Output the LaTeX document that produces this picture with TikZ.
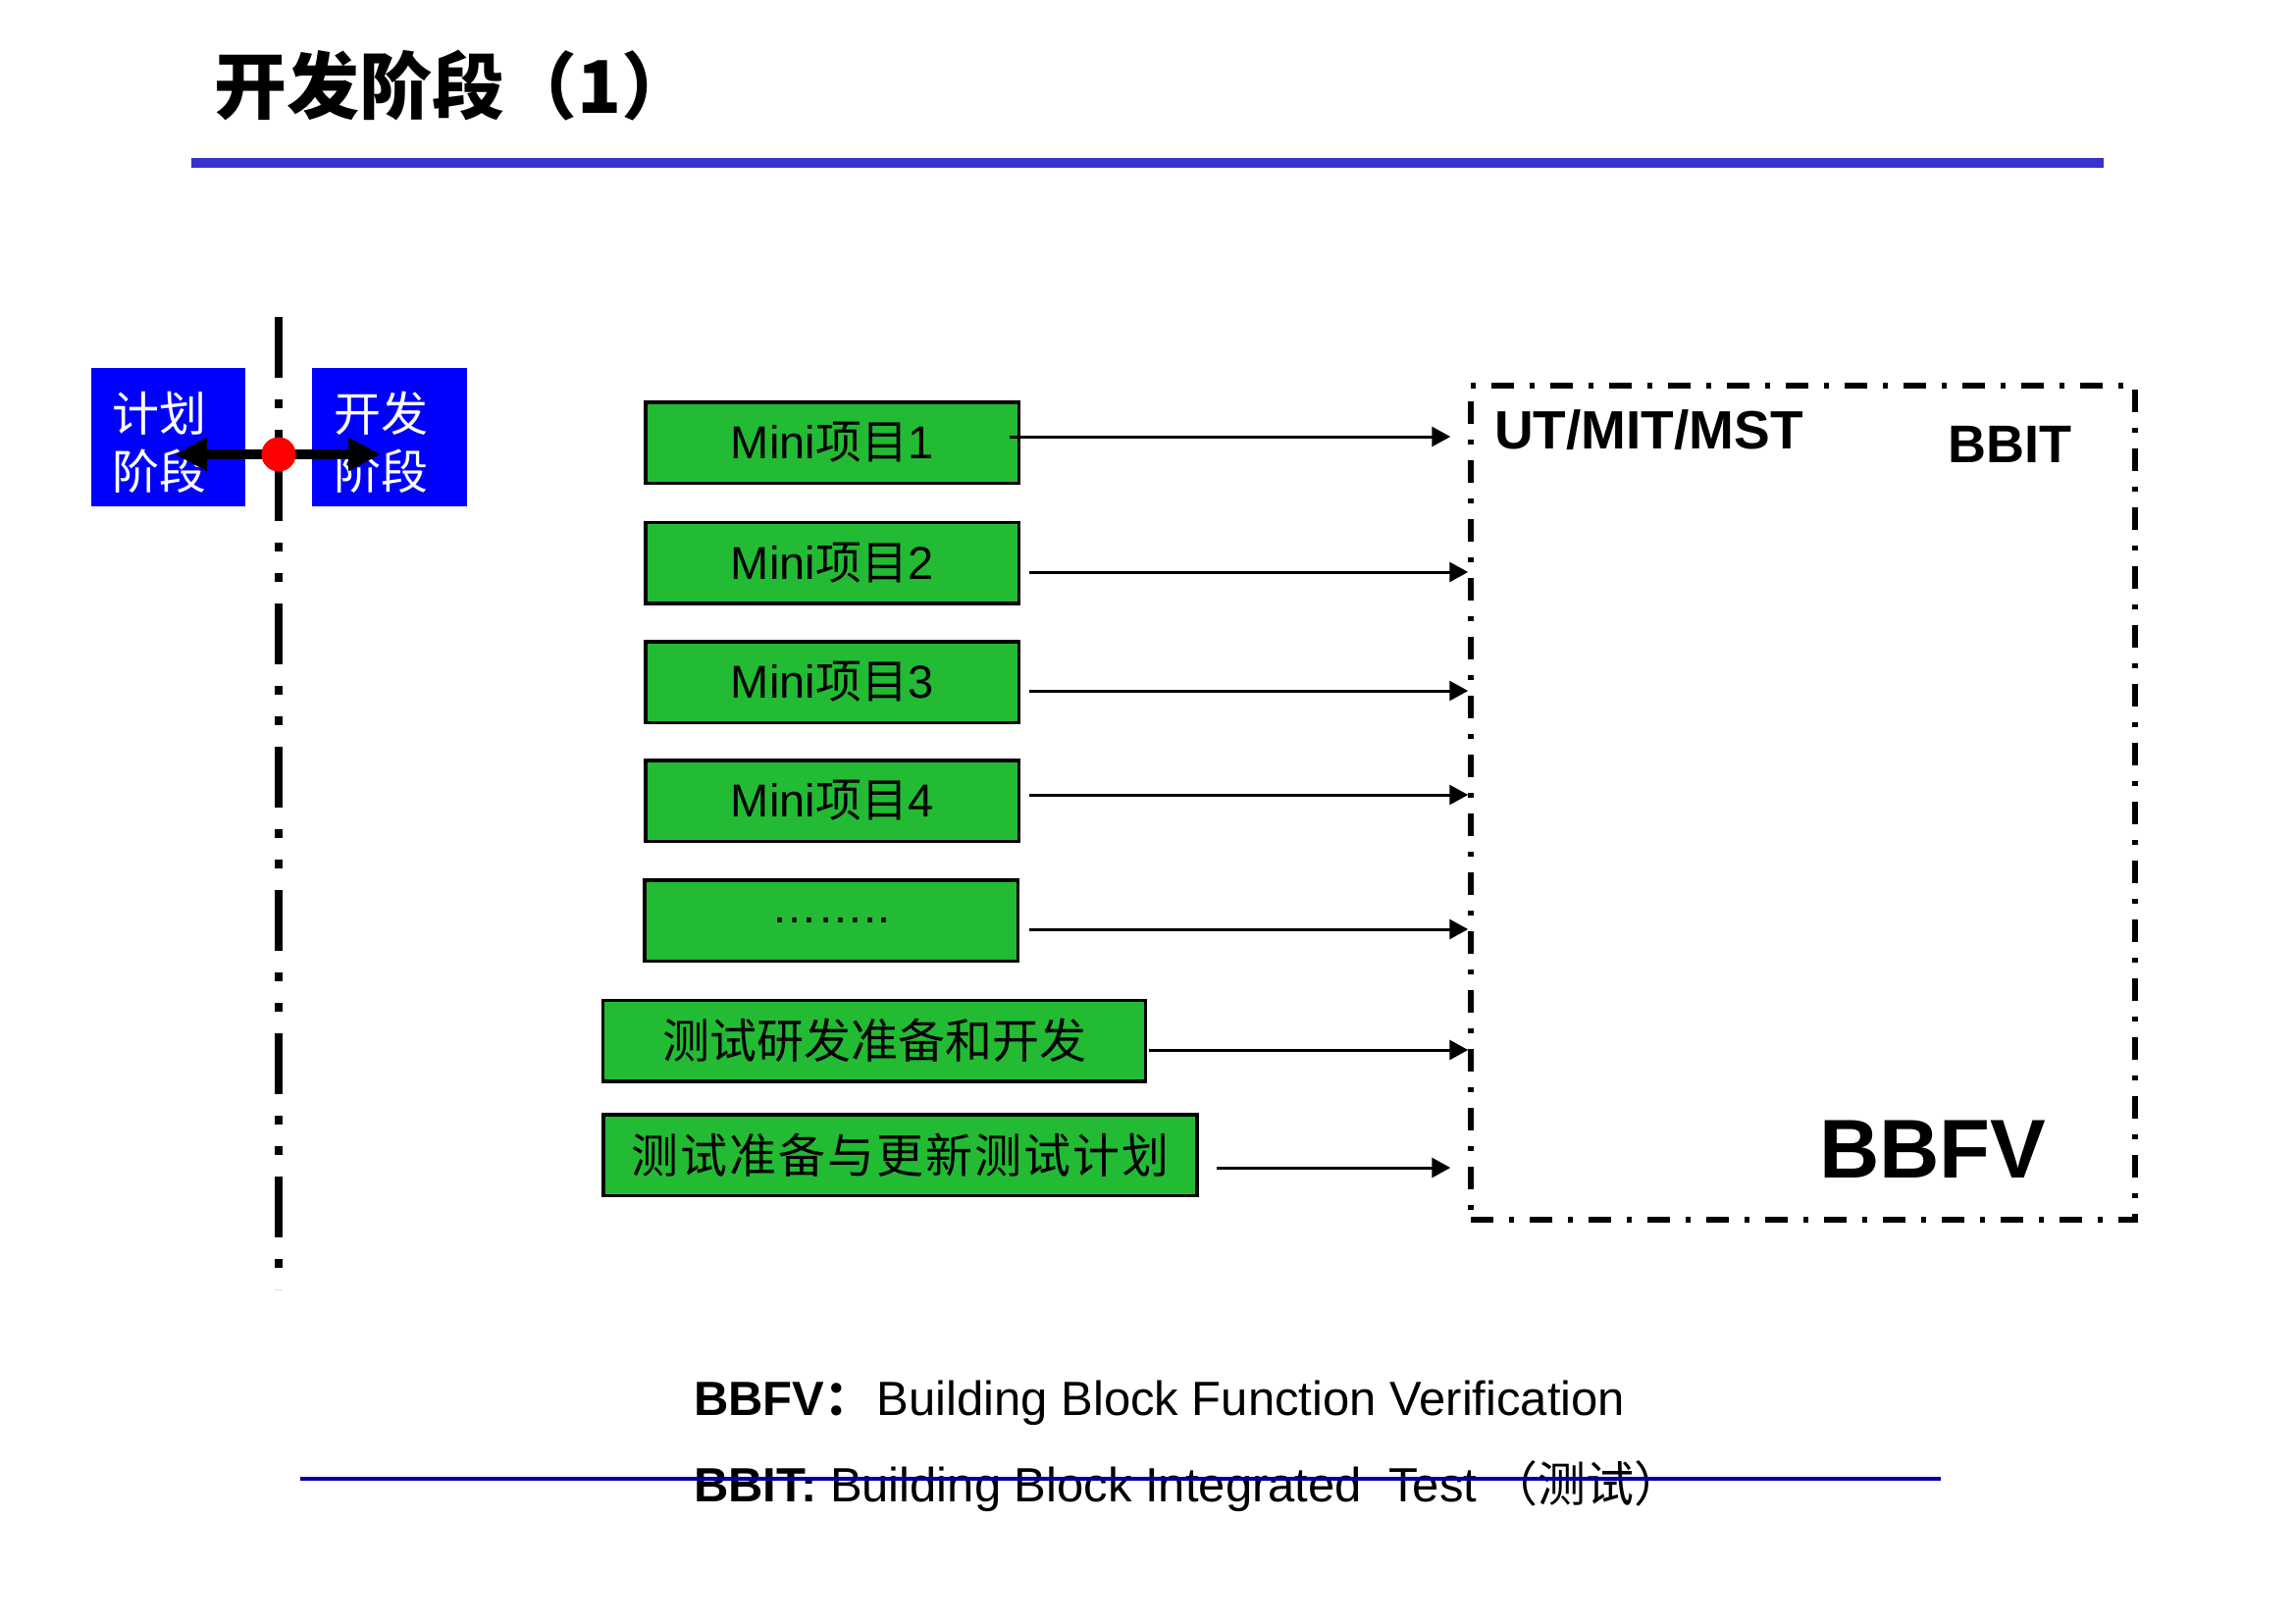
\documentclass[tikz,border=0pt]{standalone}
\usepackage{fontspec}
\setmainfont{Liberation Sans}
\newfontfamily\cjk{Noto Sans CJK SC}
\newfontfamily\cjkwide{Noto Sans CJK SC}[LetterSpace=4]
\usetikzlibrary{arrows.meta}

\definecolor{barblue}{RGB}{55,51,204}
\definecolor{phaseblue}{RGB}{0,0,255}
\definecolor{boxgreen}{RGB}{34,187,51}
\definecolor{ruleblue}{RGB}{0,0,153}
\definecolor{dotred}{RGB}{255,0,0}

% font size given in pixels of the drawing
\newcommand\pxfont[2]{\fontsize{#1pt}{#2pt}\selectfont}

\begin{document}
\begin{tikzpicture}[x=1pt, y=-1pt,
  phasebox/.style={fill=phaseblue, inner sep=0pt, minimum width=157pt, minimum height=141pt},
  phasetext/.style={text=white, inner xsep=21pt, inner ysep=0pt,
    text width=115pt, align=left, font=\cjk\pxfont{48}{59}},
  greenbox/.style={draw=black, line width=3.5pt, fill=boxgreen, inner sep=0pt,
    minimum height=82.5pt, font=\pxfont{47}{56}},
  minibox/.style={greenbox, minimum width=380.5pt},
  link/.style={line width=3pt, -{Triangle[length=19pt,width=20pt]}},
  framebox/.style={draw=black, line width=5.5pt,
    dash pattern=on 23pt off 16pt on 5pt off 16pt,
    minimum width=677pt, minimum height=850pt, inner sep=0pt},
  phaseline/.style={line width=8pt,
    dash pattern=on 62pt off 22pt on 9pt off 22pt on 9pt off 22pt},
  pivot/.style={circle, fill=dotred, minimum size=35pt, inner sep=0pt},
  swing/.style={line width=10pt, -{Triangle[length=33pt,width=32pt]}},
  tag/.style={anchor=base west, inner sep=0pt},
]
% page
\useasboundingbox (0,0) rectangle (2339,1654);
\fill[white] (0,0) rectangle (2339,1654);

% heading and its bar
\node[tag, font=\cjk\bfseries\pxfont{74}{80}] (title) at (218,115) {开发阶段（1）};
\fill[barblue] (195,161) rectangle (2144,171);

% phase boxes
\node[phasebox] (plan) at (171.5,445.5) {};
\node[phasebox, minimum width=158pt] (dev) at (397,445.5) {};
\node[phasetext] (planText) at ([yshift=-5pt]plan.center) {计划\\阶段};
\node[phasetext] (devText) at ([shift={(1pt,-5pt)}]dev.center) {开发\\阶段};

% phase boundary
\coordinate (lineTop) at (284,323);
\coordinate (lineBot) at (284,1314);
\draw[phaseline] (lineTop) -- (lineBot);

% transition marker
\coordinate (pc) at (284,463);
\draw[swing, shorten >=6.5pt] (pc) -- (pc -| plan.center);
\draw[swing, shorten >=9pt] (pc) -- (pc -| dev.center);
\node[pivot] (dot) at (pc) {};

% work items
\node[minibox] (m1) at (848,451) {Mini{\cjk 项目}1};
\node[minibox] (m2) at (848,573.5) {Mini{\cjk 项目}2};
\node[minibox] (m3) at (848,695) {Mini{\cjk 项目}3};
\node[minibox] (m4) at (848,816) {Mini{\cjk 项目}4};
\node[minibox] (m5) at (847,938) {……..};
\node[greenbox, minimum width=553pt, font=\cjk\pxfont{48}{56}] (t1) at (891,1060.5) {测试研发准备和开发};
\node[greenbox, minimum width=605pt, font=\cjkwide\pxfont{48}{56}] (t2) at (917.5,1177) {测试准备与更新测试计划};

% test scope frame
\node[framebox] (frame) at (1837.5,818) {};
\node[tag, font=\bfseries\pxfont{55}{60}] (ut) at (1523,457) {UT/MIT/MST};
\node[tag, font=\bfseries\pxfont{54}{60}] (bbit) at (1985,471) {BBIT};
\node[tag, font=\bfseries\pxfont{85}{90}] (bbfv) at (1854,1200) {BBFV};

% links into the frame
\draw[link, shorten >=18pt] ([shift={(-11pt,6pt)}]m1.east) coordinate (s1) -- (s1 -| frame.west);
\draw[link] ([shift={(9pt,-9.5pt)}]m2.east) coordinate (s2) -- (s2 -| frame.west);
\draw[link] ([shift={(9pt,-9pt)}]m3.east) coordinate (s3) -- (s3 -| frame.west);
\draw[link] ([shift={(9pt,6pt)}]m4.east) coordinate (s4) -- (s4 -| frame.west);
\draw[link] ([shift={(10pt,-9pt)}]m5.east) coordinate (s5) -- (s5 -| frame.west);
\draw[link] ([shift={(2pt,-9.5pt)}]t1.east) coordinate (s6) -- (s6 -| frame.west);
\draw[link, shorten >=18pt] ([shift={(18pt,-13pt)}]t2.east) coordinate (s7) -- (s7 -| frame.west);

% glossary
\node[tag, font=\pxfont{49}{58}] (def1) at (707,1442)
  {\textbf{BBFV}{\cjk\bfseries ：}\hspace{4pt}Building Block Function Verification};
\node[tag, font=\pxfont{49}{58}] (def2) at (707,1530)
  {\textbf{BBIT:} Building Block Integrated\ \ Test {\cjk （测试）}};
\coordinate (ruleL) at (306,1507);
\coordinate (ruleR) at (1978,1507);
\draw[ruleblue, line width=3.5pt] (ruleL) -- (ruleR);
\end{tikzpicture}
\end{document}
